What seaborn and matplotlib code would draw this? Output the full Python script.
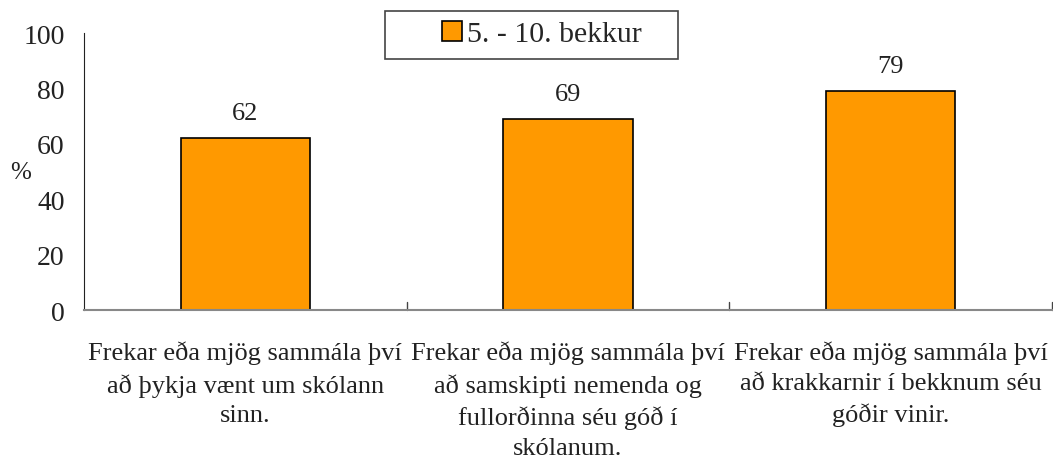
import pandas as pd
import matplotlib.pyplot as plt
import matplotlib.patches as mpatches
import seaborn as sns

# Data
categories = [
    "Frekar eða mjög sammála því\nað þykja vænt um skólann\nsinn.",
    "Frekar eða mjög sammála því\nað samskipti nemenda og\nfullorðinna séu góð í\nskólanum.",
    "Frekar eða mjög sammála því\nað krakkarnir í bekknum séu\ngóðir vinir.",
]
values = [62, 69, 79]
series_name = "5. - 10. bekkur"

df = pd.DataFrame({"category": categories, "value": values, "group": series_name})

sns.set_style("white")
plt.rcParams['font.family'] = ['Liberation Serif', 'DejaVu Serif']

W, H = 1053, 464
fig = plt.figure(figsize=(W / 100, H / 100), dpi=100)
ax = fig.add_axes([0.0798, 0.3297, 0.9192, 0.597])

sns.barplot(data=df, x="category", y="value", hue="group", palette=["#FF9900"],
            saturation=1, width=0.4, edgecolor="black", linewidth=1.2, ax=ax)

for i, v in enumerate(values):
    ax.text(i, v + 5, str(v), ha="center", va="bottom", fontsize=19, color="#222222")

ax.set_xlim(-0.5, 2.5)
ax.set_ylim(0, 100)
ax.set_yticks(range(0, 101, 20))
ax.tick_params(axis="y", labelsize=20, length=6, width=1, color="#444444", direction="out", pad=8,
               labelcolor="#222222")
ax.tick_params(axis="x", labelsize=19, length=0, pad=22, labelcolor="#222222")
for lbl in ax.get_xticklabels():
    lbl.set_linespacing(1.46)
ax.set_xlabel("")
ax.set_ylabel("%", rotation=0, fontsize=18, color="#222222")
ax.yaxis.set_label_coords(-0.066, 0.46)

# category separator ticks on the x axis
for xb in [0.5, 1.5, 2.5]:
    ax.plot([xb, xb], [0, 3], color="#444444", lw=1, clip_on=False)

for s in ["top", "right"]:
    ax.spines[s].set_visible(False)
ax.spines["left"].set_color("#222222")
ax.spines["bottom"].set_color("#888888")
ax.spines["bottom"].set_linewidth(1.5)

# legend: frameless, with a wider box drawn behind it
ax.legend(loc="center left", frameon=False, fontsize=21.5,
          handlelength=0.68, handleheight=0.68, handletextpad=0.15, borderpad=0,
          borderaxespad=0)
leg = ax.get_legend()
for t in leg.get_texts():
    t.set_text(series_name)
leg.set_bbox_to_anchor((442 / W, 1 - 35 / H), transform=fig.transFigure)
leg.set_zorder(6)
ax.add_patch(mpatches.Rectangle((385 / W, 1 - 60 / H), 293 / W, 48 / H,
                                transform=fig.transFigure, facecolor="white",
                                edgecolor="#444444", linewidth=1.2, zorder=5,
                                clip_on=False))

fig.savefig("out.png", dpi=100)
